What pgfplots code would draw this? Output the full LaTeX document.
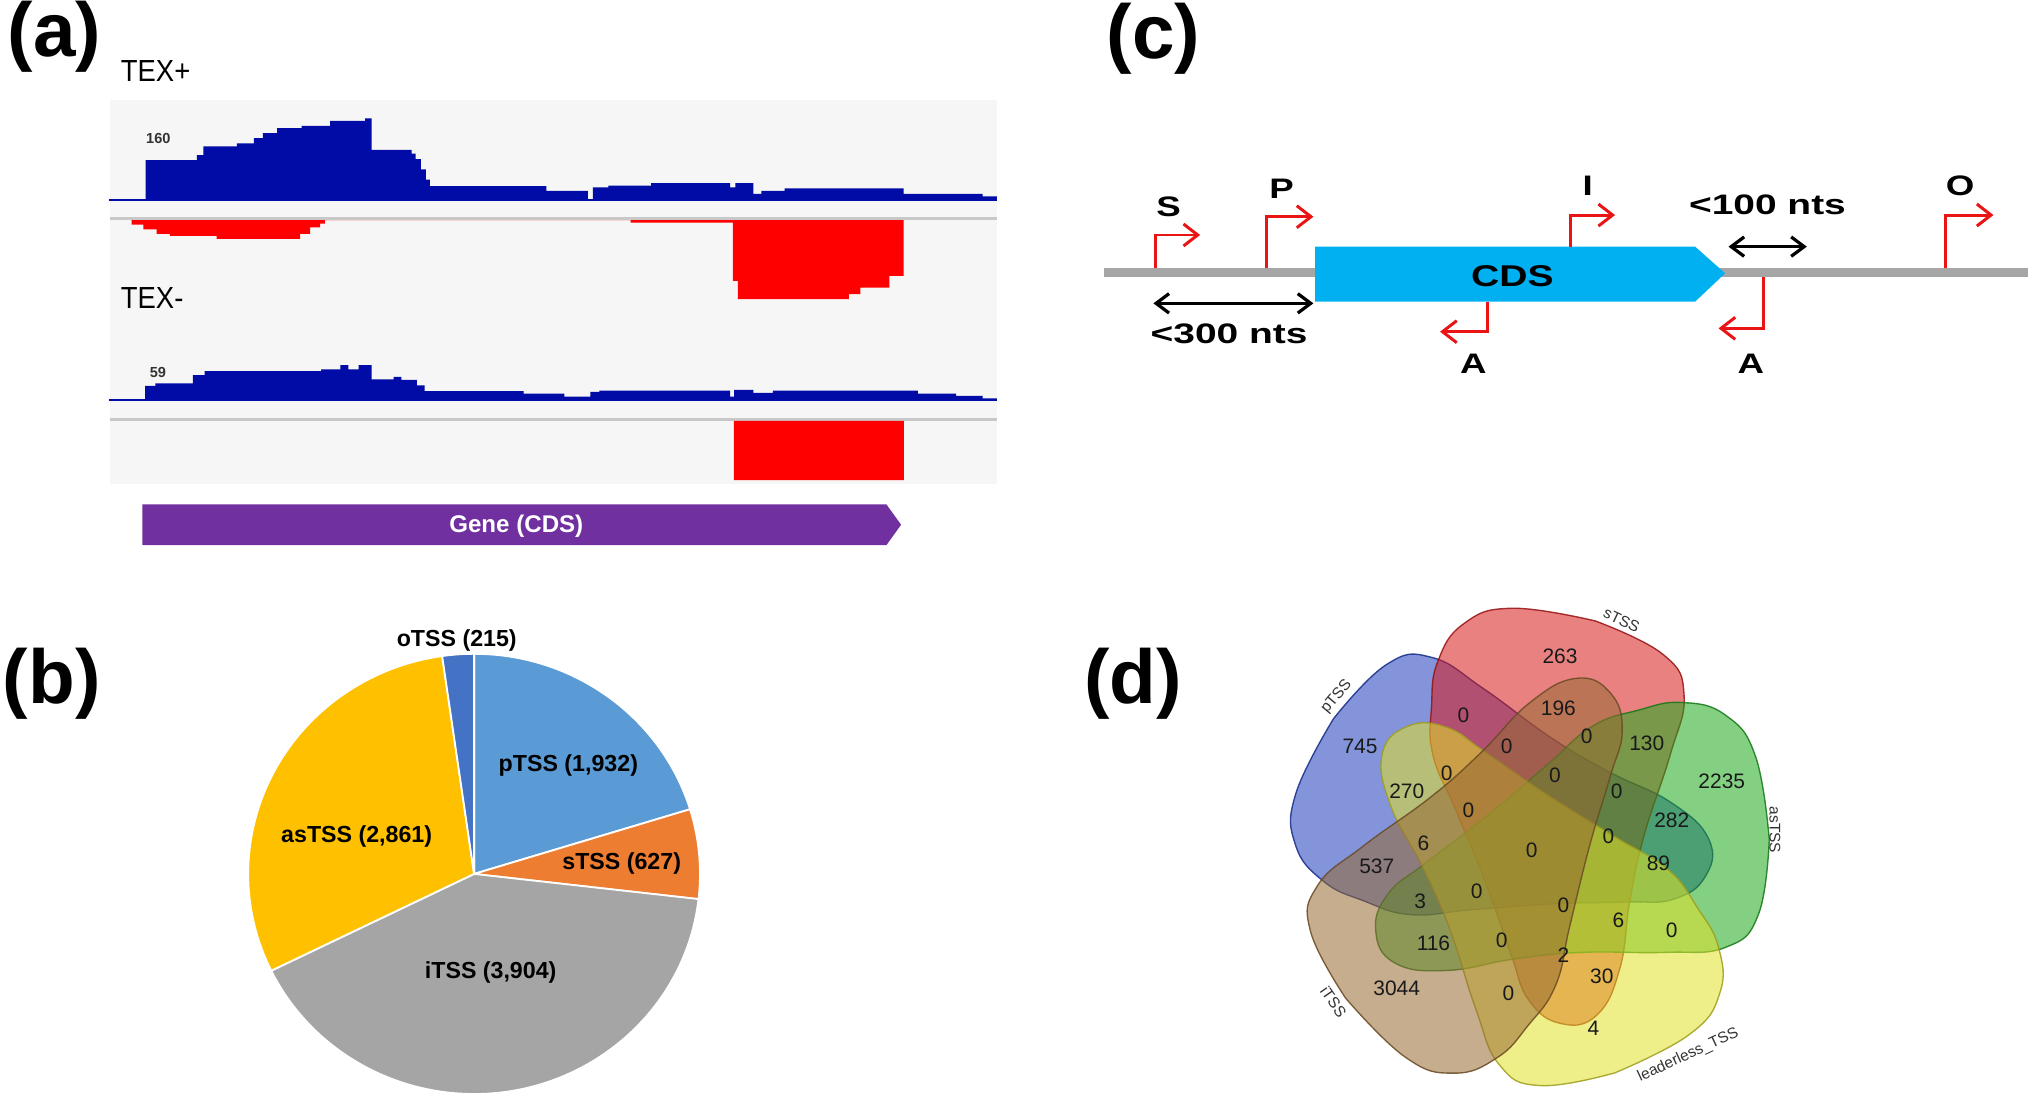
\documentclass[border=0pt]{standalone}
\usepackage{fontspec}
\setmainfont{Liberation Sans}
\usepackage{graphicx}
\usepackage{pgfplots}
\usepackage{pgfplotstable}
\pgfplotsset{compat=1.18}
\usetikzlibrary{arrows.meta}

\definecolor{igvblue}{RGB}{0,12,165}
\definecolor{igvred}{RGB}{255,0,0}
\definecolor{trackbg}{RGB}{246,246,246}
\definecolor{sepgray}{RGB}{200,200,200}
\definecolor{genepurple}{RGB}{112,48,160}
\definecolor{cdsblue}{RGB}{0,176,240}
\definecolor{linegray}{RGB}{166,166,166}
\definecolor{tssred}{RGB}{235,20,20}
\definecolor{pieP}{RGB}{91,155,213}
\definecolor{pieS}{RGB}{237,125,49}
\definecolor{pieI}{RGB}{165,165,165}
\definecolor{pieA}{RGB}{255,192,0}
\definecolor{pieO}{RGB}{68,114,196}
% venn sets, keyed by rotation of the shared outline
\definecolor{venn0}{RGB}{30,170,30}    % asTSS
\definecolor{venn72}{RGB}{215,25,25}   % sTSS
\definecolor{venn144}{RGB}{30,60,190}  % pTSS
\definecolor{venn216}{RGB}{150,105,50} % iTSS
\definecolor{venn288}{RGB}{225,225,40} % leaderless_TSS

\newcommand\fs[1]{\fontsize{#1}{#1}\selectfont}

% TSS class counts (panel b)
\def\vP{1932}
\def\vS{627}
\def\vI{3904}
\def\vA{2861}
\def\vO{215}

% coverage tracks (panel a): x = position, c = coverage
\pgfplotstableread{
x c
84 0
112.5 78
152 88
157 105
183 111
196 121
203 131
214 141
233 145
255 155
282 160
287 98
318 91
321 80
325 60
329 40
332 27
422 18
454 2
458 25
470 28
503 33
564 25
568 33
582 12
588 18
606 23
698 12
759 7
770 0
}\texpf
\pgfplotstableread{
x c
101 0
101.7 9
110.7 18
121 27
131.3 31
167.4 37
231.8 27
239.5 14
247.2 7
251 0
487 5
566 119
570 155
655.6 145
664.5 132
687 109
698 0
}\texpr
\pgfplotstableread{
x c
84 0
112 24
120 28
149 42
158 49
248 52
263 59
269 52
277 59
287 35
304 39
310 34
322 25
328 15
404.5 11
436 6
456 14
463 16
564 6
567 17
582 12
597 16
709 11
738.5 7
759 3
770 0
}\texmf
\pgfplotstableread{
x c
566.8 0
566.8 100
698.1 0
}\texmr

% outline of one venn set, relative to the diagram centre
\pgfplotstableread{
x y
183.5 8
173 72
150 104
116 114
82 108
46.4 95.3
10.3 64.4
-38.6 23.2
-82.4 -10.3
-110.7 -33.5
-120.5 -62
-106 -87
-66 -93
-12.9 -84
38.6 -79
103.0 -79
150 -75
175 -50
183.5 8
}\venn

\pgfplotstableread{
x y n
1205.0 507.2 263
1050.5 576.7 745
1130.3 552.3 0
1203.7 547.1 196
1163.8 576.7 0
1225.6 569.0 0
1272.0 574.2 130
1117.5 597.3 0
1201.1 598.6 0
1329.9 603.8 2235
1086.6 611.5 270
1248.8 611.5 0
1134.2 625.7 0
1291.3 633.4 282
1242.3 646.3 0
1099.4 651.4 6
1183.1 656.6 0
1063.4 669.4 537
1281.0 666.9 89
1140.6 688.7 0
1096.9 696.5 3
1207.6 699.0 0
1250.1 710.6 6
1291.3 718.4 0
1107.2 728.7 116
1159.9 726.1 0
1207.6 737.7 2
1237.2 754.4 30
1078.8 763.4 3044
1165.1 767.3 0
1230.8 794.3 4
}\venncounts

\begin{document}
\begin{tikzpicture}
\useasboundingbox (0,0) rectangle (156.8mm,-84.74mm);
\pgfmathsetmacro\tot{\vP+\vS+\vI+\vA+\vO}
\pgfmathsetmacro\angP{90-360*(\vP/\tot)}
\pgfmathsetmacro\angS{\angP-360*(\vS/\tot)}
\pgfmathsetmacro\angI{\angS-360*(\vI/\tot)}
\pgfmathsetmacro\angA{\angI-360*(\vA/\tot)}
\begin{axis}[
  at={(0,0)}, anchor=north west,
  scale only axis, width=156.8mm, height=84.74mm,
  xmin=0, xmax=1568, ymin=-847.4, ymax=0,
  hide axis, clip=false,
]
% ---------------- panel (a)
\fill[trackbg] (85,-77) rectangle (770,-374);
\draw[sepgray, line width=0.2mm] (85,-168.7) -- (770,-168.7);
\draw[sepgray, line width=0.2mm] (85,-323.9) -- (770,-323.9);
\addplot[const plot, fill=igvblue, draw=none] table[x=x, y expr={-154.5+0.3944*\thisrow{c}}] {\texpf};
\addplot[igvblue, line width=0.15mm] coordinates {(84,-154.5) (770,-154.5)};
\addplot[const plot, fill=igvred, draw=none] table[x=x, y expr={-170-0.3944*\thisrow{c}}] {\texpr};
\addplot[const plot, fill=igvblue, draw=none] table[x=x, y expr={-309+0.4576*\thisrow{c}}] {\texmf};
\addplot[igvblue, line width=0.15mm] coordinates {(84,-309) (770,-309)};
\addplot[const plot, fill=igvred, draw=none] table[x=x, y expr={-325-0.4576*\thisrow{c}}] {\texmr};
\node[anchor=west, inner sep=0] at (92.7,-54.7) {\scalebox{0.9}[1]{\fs{6.7pt}TEX+}};
\node[anchor=west, inner sep=0] at (92.7,-230.4) {\scalebox{0.9}[1]{\fs{6.7pt}TEX-}};
\node[inner sep=0, text=black!80] at (122.3,-107.1) {\bfseries\fs{3.2pt}160};
\node[inner sep=0, text=black!80] at (122,-287.8) {\bfseries\fs{3.2pt}59};
\fill[genepurple] (110,-389.6) -- (684.7,-389.6) -- (696,-405.3) -- (684.7,-421) -- (110,-421) -- cycle;
\node[inner sep=0, text=white] at (398.8,-406.3) {\bfseries\fs{5.3pt}Gene (CDS)};
% ---------------- panel (b)
\fill[pieP, draw=white, line width=0.4pt] (366.2,-675) -- ++(90:17.45mm and 17mm)
  arc[start angle=90, end angle=\angP, x radius=17.45mm, y radius=17mm] -- cycle;
\fill[pieS, draw=white, line width=0.4pt] (366.2,-675) -- ++(\angP:17.45mm and 17mm)
  arc[start angle=\angP, end angle=\angS, x radius=17.45mm, y radius=17mm] -- cycle;
\fill[pieI, draw=white, line width=0.4pt] (366.2,-675) -- ++(\angS:17.45mm and 17mm)
  arc[start angle=\angS, end angle=\angI, x radius=17.45mm, y radius=17mm] -- cycle;
\fill[pieA, draw=white, line width=0.4pt] (366.2,-675) -- ++(\angI:17.45mm and 17mm)
  arc[start angle=\angI, end angle=\angA, x radius=17.45mm, y radius=17mm] -- cycle;
\fill[pieO, draw=white, line width=0.4pt] (366.2,-675) -- ++(\angA:17.45mm and 17mm)
  arc[start angle=\angA, end angle=-270, x radius=17.45mm, y radius=17mm] -- cycle;
\node[inner sep=0] at (352.8,-494.9) {\bfseries\fs{5.1pt}oTSS (215)};
\node[inner sep=0] at (439,-591.4) {\bfseries\fs{5.1pt}pTSS (1,932)};
\node[inner sep=0] at (480.2,-666.9) {\bfseries\fs{5.1pt}sTSS (627)};
\node[inner sep=0] at (275.5,-646.3) {\bfseries\fs{5.1pt}asTSS (2,861)};
\node[inner sep=0] at (379,-751.1) {\bfseries\fs{5.1pt}iTSS (3,904)};
% ---------------- panel (c)
\draw[linegray, line width=0.69mm] (852.8,-210.7) -- (1566.8,-210.7);
\fill[cdsblue] (1015.8,-190.5) -- (1309.3,-190.5) -- (1332.5,-211.1) -- (1309.3,-233) -- (1015.8,-233) -- cycle;
\begin{scope}[tssred, line width=0.23mm, -{Straight Barb[length=1.1mm, width=1.7mm]}]
  \draw (892.2,-207.3) -- (892.2,-181.5) -- (927,-181.5);
  \draw (978.4,-207.3) -- (978.4,-167.4) -- (1014.5,-167.4);
  \draw (1212.7,-190.5) -- (1212.7,-166.1) -- (1247.5,-166.1);
  \draw (1502.4,-207.3) -- (1502.4,-166.1) -- (1539.8,-166.1);
  \draw (1149.2,-233) -- (1149.2,-256.2) -- (1112.3,-256.2);
  \draw (1362.1,-214.2) -- (1362.1,-253.6) -- (1327.4,-253.6);
\end{scope}
\draw[line width=0.25mm, {Straight Barb[length=1mm, width=1.5mm]}-{Straight Barb[length=1mm, width=1.5mm]}] (890.9,-234.3) -- (1014.5,-234.3);
\draw[line width=0.25mm, {Straight Barb[length=1mm, width=1.5mm]}-{Straight Barb[length=1mm, width=1.5mm]}] (1335.1,-190.5) -- (1395.6,-190.5);
\node[inner sep=0] at (1168.2,-213.2) {\scalebox{1.3}[1]{\bfseries\fs{6.6pt}CDS}};
\node[inner sep=0] at (902.6,-159.7) {\scalebox{1.3}[1]{\bfseries\fs{6.2pt}S}};
\node[inner sep=0] at (990,-145.5) {\scalebox{1.3}[1]{\bfseries\fs{6.2pt}P}};
\node[inner sep=0] at (1226.3,-143.3) {\scalebox{1.3}[1]{\bfseries\fs{6.2pt}I}};
\node[inner sep=0] at (1514,-143.4) {\scalebox{1.3}[1]{\bfseries\fs{6.2pt}O}};
\node[inner sep=0] at (1138.1,-281.2) {\scalebox{1.3}[1]{\bfseries\fs{6.2pt}A}};
\node[inner sep=0] at (1352.3,-281.2) {\scalebox{1.3}[1]{\bfseries\fs{6.2pt}A}};
\node[inner sep=0] at (949.4,-257.5) {\scalebox{1.38}[1]{\bfseries\fs{6.2pt}<300 nts}};
\node[inner sep=0] at (1365.2,-158.4) {\scalebox{1.38}[1]{\bfseries\fs{6.2pt}<100 nts}};
% ---------------- panel (d)
\pgfplotsinvokeforeach{144,72,0,288,216}{
  \addplot[smooth, tension=0.75, fill=venn#1, fill opacity=0.55,
    draw=venn#1!70!black, draw opacity=0.85, line width=0.3pt]
    table[x expr={1183.1+\thisrow{x}*cos(#1)-\thisrow{y}*sin(#1)},
          y expr={-656.6+\thisrow{x}*sin(#1)+\thisrow{y}*cos(#1)}] {\venn};
}
\addplot[draw=none, mark=none,
  point meta=explicit symbolic, nodes near coords, nodes near coords align={center},
  every node near coord/.append style={font=\fs{4.6pt}, inner sep=0pt, text=black!90}]
  table[x=x, y expr={-\thisrow{y}}, meta=n] {\venncounts};
\node[rotate=50, inner sep=0, text=black!80] at (1032.5,-538.1) {\fs{3.4pt}pTSS};
\node[rotate=-25, inner sep=0, text=black!80] at (1252.6,-478.9) {\fs{3.4pt}sTSS};
\node[rotate=-90, inner sep=0, text=black!80] at (1371,-641) {\fs{3.4pt}asTSS};
\node[rotate=-55, inner sep=0, text=black!80] at (1030,-773.7) {\fs{3.4pt}iTSS};
\node[rotate=25, inner sep=0, text=black!80] at (1304,-815) {\fs{3.4pt}leaderless\_TSS};
% ---------------- panel letters
\node[inner sep=0] at (42,-28) {\bfseries\fs{16.8pt}(a)};
\node[inner sep=0] at (40,-528) {\bfseries\fs{16.8pt}(b)};
\node[inner sep=0] at (891,-30) {\bfseries\fs{16.8pt}(c)};
\node[inner sep=0] at (875,-528) {\bfseries\fs{16.8pt}(d)};
\end{axis}
\end{tikzpicture}
\end{document}
